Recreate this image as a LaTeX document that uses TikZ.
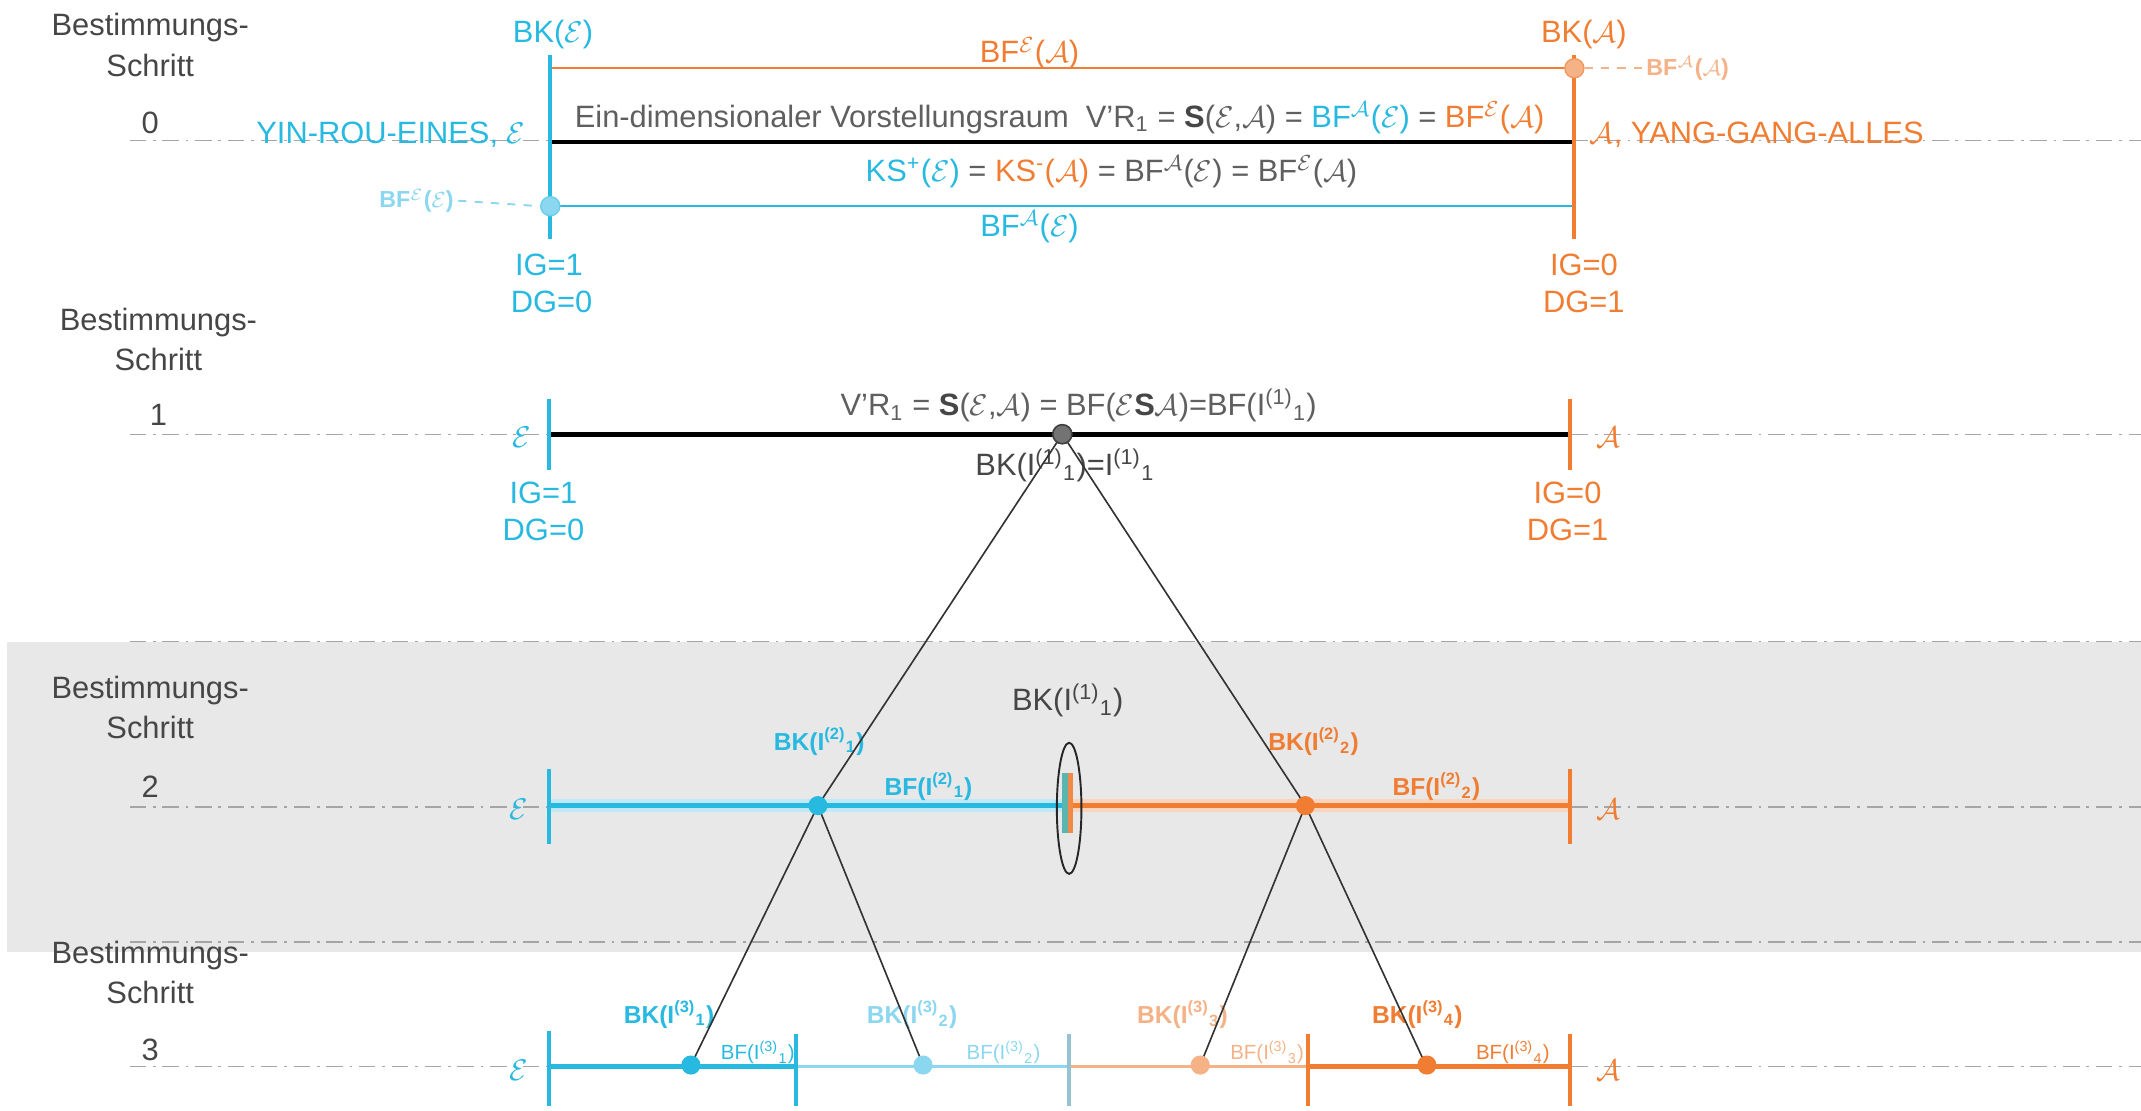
\documentclass[tikz,border=0pt]{standalone}
\usepackage{fontspec}
\setmainfont{Liberation Sans}
\usetikzlibrary{calc,shapes.geometric}

\definecolor{cyanc}{RGB}{40,185,225}
\definecolor{orangec}{RGB}{240,125,50}
\definecolor{lcyan}{RGB}{140,215,240}
\definecolor{lorange}{RGB}{245,178,135}
\definecolor{txtgray}{RGB}{95,95,95}
\definecolor{dkgray}{RGB}{70,70,70}
\definecolor{guidegray}{RGB}{165,165,165}
\definecolor{bandgray}{RGB}{232,232,232}
\definecolor{tealbar}{RGB}{90,180,175}
\definecolor{midtick}{RGB}{150,195,210}

\newcommand{\calE}{$\mathcal{E}$}
\newcommand{\calA}{$\mathcal{A}$}
\newcommand{\supsub}[2]{\textsuperscript{#1}\textsubscript{#2}}

\tikzset{
  lbl/.style={inner sep=0pt, font=\fontsize{11.3}{13}\selectfont},
  boldlbl/.style={inner sep=0pt, font=\fontsize{9}{11}\selectfont\bfseries},
  smalllbl/.style={inner sep=0pt, font=\fontsize{7.5}{9}\selectfont},
  sidelbl/.style={inner sep=0pt, font=\fontsize{8.5}{10}\selectfont\bfseries},
  steplbl/.style={inner sep=0pt, font=\fontsize{11.3}{13}\selectfont, text=dkgray},
  guide/.style={guidegray, line width=0.5pt, dash pattern=on 6pt off 2.5pt on 1pt off 2.5pt},
  tick/.style={line width=1.4pt},
  axis/.style={black, line width=1.8pt},
  branch/.style={black!80, line width=0.6pt},
  dot/.style={circle, inner sep=0pt, minimum size=7pt},
}

\begin{document}
\begin{tikzpicture}[x=0.5pt,y=-0.5pt]
\useasboundingbox (0,0) rectangle (1568,813);

% shaded band of step 2
\fill[bandgray] (5,470) rectangle (1568,697);

% dash-dotted guide lines of the steps
\foreach \yy in {103,318,470,591,690,781}
  \draw[guide] (95,\yy) -- (1568,\yy);

% ---------------- step 0 ----------------
\node[steplbl] (s0a) at (110,20) {Bestimmungs-};
\node[steplbl] (s0b) at (110,48) {Schritt};
\node[steplbl] (s0n) at (110,90) {0};

\coordinate (e0t) at (403,40);  \coordinate (e0b) at (403,175);
\coordinate (a0t) at (1153,40); \coordinate (a0b) at (1153,175);
\coordinate (e0o) at (403,50);  \coordinate (a0o) at (1153,50);
\coordinate (e0m) at (403,104); \coordinate (a0m) at (1153,104);
\coordinate (e0c) at (403,151); \coordinate (a0c) at (1153,151);

\draw[orangec, line width=0.8pt] (e0o) -- (a0o);
\draw[cyanc, line width=0.8pt] (e0c) -- (a0c);
\draw[axis] (e0m) -- (a0m);
\draw[cyanc, tick] (e0t) -- (e0b);
\draw[orangec, tick] (a0t) -- (a0b);

\node[lbl, text=cyanc] (bkE) at (405,25) {BK(\calE)};
\node[lbl, text=orangec] (bkA) at (1160,25) {BK(\calA)};
\node[lbl, text=orangec] (bfEA) at (754,39) {BF\textsuperscript{\calE}(\calA)};
\node[lbl, text=txtgray] (vr0) at (776,86) {Ein-dimensionaler Vorstellungsraum\ \ V'R\textsubscript{1} = {\color{dkgray}$\mathbf{S}$}(\calE,\calA) = {\color{cyanc}BF\textsuperscript{\calA}(\calE)} = {\color{orangec}BF\textsuperscript{\calE}(\calA)}};
\node[lbl, text=cyanc, anchor=east] (yin) at (385,99) {YIN-ROU-EINES, \calE};
\node[lbl, text=orangec, anchor=west] (yang) at (1164,99) {\calA, YANG-GANG-ALLES};
\node[lbl, text=txtgray] (ks) at (814,126) {{\color{cyanc}KS\textsuperscript{+}(\calE)} = {\color{orangec}KS\textsuperscript{-}(\calA)} = BF\textsuperscript{\calA}(\calE) = BF\textsuperscript{\calE}(\calA)};
\node[lbl, text=cyanc] (bfAE) at (754,166) {BF\textsuperscript{\calA}(\calE)};
\node[sidelbl, text=lcyan] (bfEE) at (305,147) {BF\textsuperscript{\calE}(\calE)};
\node[sidelbl, text=lorange] (bfAA) at (1236,50) {BF\textsuperscript{\calA}(\calA)};

\node[dot, fill=lcyan, draw=cyanc!70, line width=0.5pt] (dE0) at (e0c) {};
\node[dot, fill=lorange, draw=orangec!80, line width=0.5pt] (dA0) at (a0o) {};
\draw[lcyan, line width=0.7pt, dashed] ($(bfEE.east)+(3,0)$) -- (dE0.west);
\draw[lorange, line width=0.7pt, dashed] (dA0.east) -- ($(bfAA.west)+(-3,0)$);

\node[lbl, text=cyanc] (ig0e) at (402,194) {IG=1};
\node[lbl, text=cyanc] (dg0e) at (404,221) {DG=0};
\node[lbl, text=orangec] (ig0a) at (1160,194) {IG=0};
\node[lbl, text=orangec] (dg0a) at (1160,221) {DG=1};

% ---------------- step 1 ----------------
\node[steplbl] (s1a) at (116,236) {Bestimmungs-};
\node[steplbl] (s1b) at (116,263) {Schritt};
\node[steplbl] (s1n) at (116,304) {1};

\coordinate (e1) at (402,318); \coordinate (a1) at (1150,318);
\draw[axis] (e1) -- (a1);
\draw[cyanc, tick] (402,292) -- (402,344);
\draw[orangec, tick] (1150,292) -- (1150,344);
\node[lbl, text=cyanc] (e1l) at (382,320) {\calE};
\node[lbl, text=orangec] (a1l) at (1178,320) {\calA};
\node[lbl, text=cyanc] (ig1e) at (398,361) {IG=1};
\node[lbl, text=cyanc] (dg1e) at (398,388) {DG=0};
\node[lbl, text=orangec] (ig1a) at (1148,361) {IG=0};
\node[lbl, text=orangec] (dg1a) at (1148,388) {DG=1};
\node[lbl, text=txtgray] (vr1) at (790,297) {V'R\textsubscript{1} = {\color{dkgray}$\mathbf{S}$}(\calE,\calA) = BF(\calE{\color{dkgray}$\mathbf{S}$}\calA)=BF(I\supsub{(1)}{1})};
\node[lbl, text=dkgray] (bk1) at (780,341) {BK(I\supsub{(1)}{1})=I\supsub{(1)}{1}};

% ---------------- step 2 ----------------
\node[steplbl] (s2a) at (110,506) {Bestimmungs-};
\node[steplbl] (s2b) at (110,533) {Schritt};
\node[steplbl] (s2n) at (110,576) {2};

\draw[lcyan!55, line width=5pt] (402,590) -- (780,590);
\draw[lorange!55, line width=5pt] (785,590) -- (1150,590);
\draw[cyanc, line width=1.6pt] (402,590) -- (780,590);
\draw[orangec, line width=1.6pt] (785,590) -- (1150,590);
\draw[cyanc, tick] (402,563) -- (402,618);
\draw[orangec, tick] (1150,563) -- (1150,618);
\fill[tealbar] (778,566) rectangle (782,610);
\fill[orangec!90] (782,566) rectangle (786,610);
\node[draw=black!85, line width=0.7pt, ellipse, minimum width=9pt, minimum height=48pt, inner sep=0pt] (ell) at (783,592) {};
\node[lbl, text=cyanc] (e2l) at (380,593) {\calE};
\node[lbl, text=orangec] (a2l) at (1178,593) {\calA};
\node[lbl, text=dkgray] (bk2m) at (782,513) {BK(I\supsub{(1)}{1})};
\node[boldlbl, text=cyanc] (bk21) at (600,543) {BK(I\supsub{(2)}{1})};
\node[boldlbl, text=cyanc] (bf21) at (680,576) {BF(I\supsub{(2)}{1})};
\node[boldlbl, text=orangec] (bk22) at (962,543) {BK(I\supsub{(2)}{2})};
\node[boldlbl, text=orangec] (bf22) at (1052,576) {BF(I\supsub{(2)}{2})};

% ---------------- step 3 ----------------
\node[steplbl] (s3a) at (110,700) {Bestimmungs-};
\node[steplbl] (s3b) at (110,727) {Schritt};
\node[steplbl] (s3n) at (110,769) {3};

\draw[cyanc, line width=1.6pt] (402,781) -- (583,781);
\draw[lcyan, line width=1.1pt] (583,781) -- (783,781);
\draw[lorange, line width=1.1pt] (783,781) -- (958,781);
\draw[orangec, line width=2pt] (958,781) -- (1150,781);
\draw[cyanc, tick] (402,755) -- (402,810);
\draw[cyanc, tick] (583,757) -- (583,810);
\draw[midtick, tick] (783,757) -- (783,810);
\draw[orangec, tick] (958,757) -- (958,810);
\draw[orangec, tick] (1150,757) -- (1150,810);
\node[lbl, text=cyanc] (e3l) at (380,784) {\calE};
\node[lbl, text=orangec] (a3l) at (1178,784) {\calA};
\node[boldlbl, text=cyanc] (bk31) at (490,743) {BK(I\supsub{(3)}{1})};
\node[boldlbl, text=lcyan] (bk32) at (668,743) {BK(I\supsub{(3)}{2})};
\node[boldlbl, text=lorange] (bk33) at (866,743) {BK(I\supsub{(3)}{3})};
\node[boldlbl, text=orangec] (bk34) at (1038,743) {BK(I\supsub{(3)}{4})};
\node[smalllbl, text=cyanc] (bf31) at (555,771) {BF(I\supsub{(3)}{1})};
\node[smalllbl, text=lcyan] (bf32) at (735,771) {BF(I\supsub{(3)}{2})};
\node[smalllbl, text=lorange] (bf33) at (928,771) {BF(I\supsub{(3)}{3})};
\node[smalllbl, text=orangec] (bf34) at (1108,771) {BF(I\supsub{(3)}{4})};

% ---------------- branching tree ----------------
\coordinate (t1) at (778,318);
\coordinate (t21) at (599,590);
\coordinate (t22) at (956,590);
\coordinate (t31) at (506,780);
\coordinate (t32) at (676,780);
\coordinate (t33) at (879,780);
\coordinate (t34) at (1047,786);
\draw[branch] (t1) -- (t21) -- (t31);
\draw[branch] (t21) -- (t32);
\draw[branch] (t1) -- (t22) -- (t33);
\draw[branch] (t22) -- (t34);

\node[dot, fill=black!55, draw=black!75, line width=0.6pt] (d1) at (t1) {};
\node[dot, fill=cyanc] (d21) at (t21) {};
\node[dot, fill=orangec] (d22) at (t22) {};
\node[dot, fill=cyanc] (d31) at (t31) {};
\node[dot, fill=lcyan] (d32) at (t32) {};
\node[dot, fill=lorange] (d33) at (t33) {};
\node[dot, fill=orangec] (d34) at (1045,780) {};
\end{tikzpicture}
\end{document}
